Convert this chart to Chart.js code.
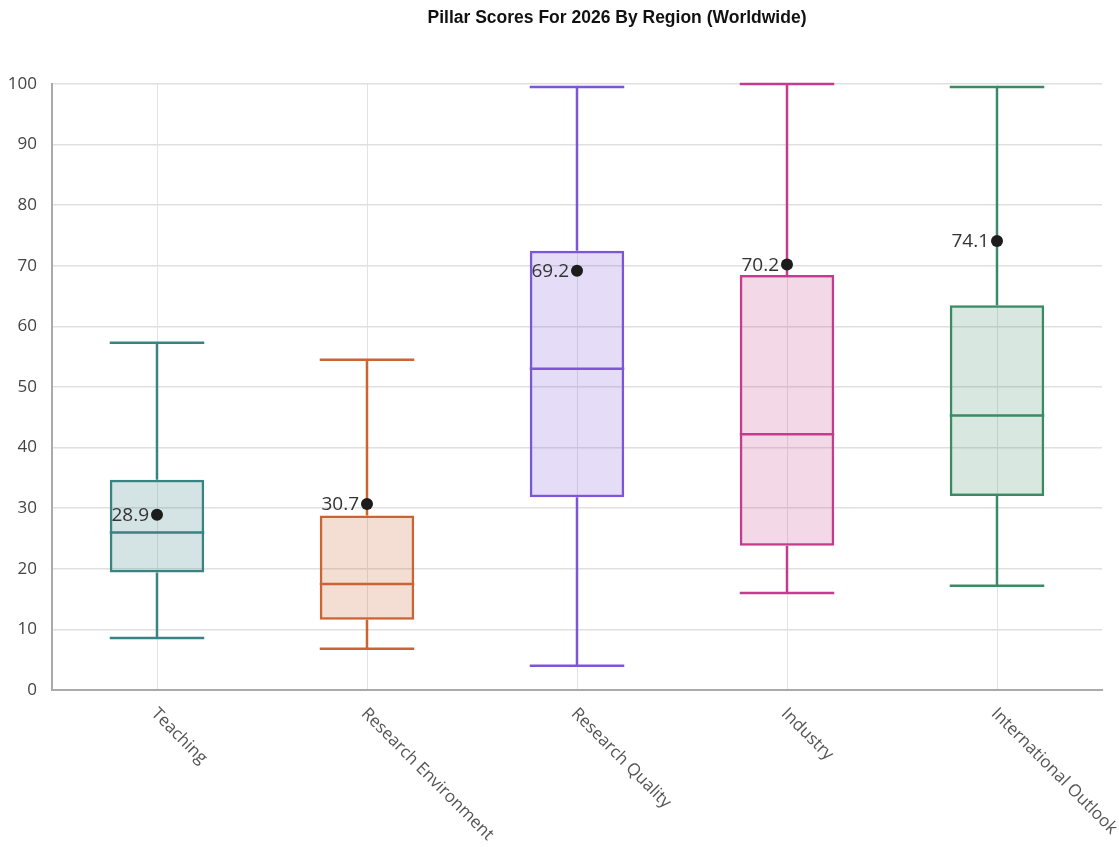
<!DOCTYPE html>
<html><head><meta charset="utf-8">
<script src="https://cdn.jsdelivr.net/npm/chart.js@4.4.1/dist/chart.umd.min.js"></script>
<style>html,body{margin:0;padding:0;background:#fff;overflow:hidden}#wrap{width:1119px;height:847px;position:relative}</style>
</head><body><div id="wrap"><canvas id="c"></canvas></div>
<script>
const titleText = 'Pillar Scores For 2026 By Region (Worldwide)';
const categories = ['Teaching', 'Research Environment', 'Research Quality', 'Industry', 'International Outlook'];
const minValues = [8.6, 6.8, 4.0, 16.0, 17.2];
const q1Values = [19.4, 11.6, 31.8, 23.8, 32.0];
const medianValues = [26.0, 17.5, 53.0, 42.2, 45.3];
const q3Values = [34.7, 28.8, 72.5, 68.5, 63.5];
const maxValues = [57.3, 54.5, 99.5, 100.0, 99.5];
const meanValues = [28.9, 30.7, 69.2, 70.2, 74.1];
const strokeColors = ['#3a8383', '#cc6333', '#7d55d8', '#c43c8b', '#3a8b64'];
const fillColors = ['rgba(58,131,131,0.22)', 'rgba(204,99,51,0.22)', 'rgba(125,85,216,0.2)', 'rgba(196,60,139,0.2)', 'rgba(58,139,100,0.2)'];

const boxPlugin = {
  id: 'boxParts',
  afterDatasetDraw(chart, args) {
    if (args.index !== 0) return;
    const y = chart.scales.y, ctx = chart.ctx;
    ctx.save();
    ctx.lineWidth = 2.5;
    args.meta.data.forEach((bar, i) => {
      const cx = bar.x, half = bar.width / 2;
      const yMin = y.getPixelForValue(minValues[i]);
      const yQ1 = y.getPixelForValue(q1Values[i]);
      const yMed = y.getPixelForValue(medianValues[i]);
      const yQ3 = y.getPixelForValue(q3Values[i]);
      const yMax = y.getPixelForValue(maxValues[i]);
      ctx.strokeStyle = strokeColors[i];
      ctx.beginPath();
      ctx.moveTo(cx, yQ3); ctx.lineTo(cx, yMax);
      ctx.moveTo(cx, yQ1); ctx.lineTo(cx, yMin);
      ctx.moveTo(cx - half, yMax); ctx.lineTo(cx + half, yMax);
      ctx.moveTo(cx - half, yMin); ctx.lineTo(cx + half, yMin);
      ctx.moveTo(cx - half, yMed); ctx.lineTo(cx + half, yMed);
      ctx.stroke();
    });
    ctx.restore();
  },
  afterDraw(chart) {
    const ctx = chart.ctx, xs = chart.scales.x, ys = chart.scales.y;
    ctx.save();
    // mean labels
    ctx.font = '19px "Open Sans"';
    ctx.fillStyle = '#333';
    ctx.textAlign = 'right';
    ctx.textBaseline = 'middle';
    meanValues.forEach((v, i) => {
      ctx.fillText(v.toFixed(1), xs.getPixelForValue(i) - 8, ys.getPixelForValue(v) + 1);
    });
    // x labels
    ctx.font = '17px "Open Sans"';
    ctx.fillStyle = '#555';
    ctx.textAlign = 'left';
    ctx.textBaseline = 'top';
    categories.forEach((c, i) => {
      ctx.save();
      ctx.translate(xs.getPixelForValue(i) + 3, chart.chartArea.bottom + 15);
      ctx.rotate(Math.PI / 4);
      ctx.fillText(c, 0, 0);
      ctx.restore();
    });
    // title
    ctx.font = 'bold 17.5px "Liberation Sans"';
    ctx.fillStyle = '#111';
    ctx.textAlign = 'center';
    ctx.textBaseline = 'middle';
    ctx.fillText(titleText, 617, 18);
    ctx.restore();
  }
};

new Chart(document.getElementById('c'), {
  data: {
    labels: categories,
    datasets: [
      {
        type: 'bar',
        label: 'IQR',
        data: categories.map((_, i) => [q1Values[i], q3Values[i]]),
        backgroundColor: fillColors,
        borderColor: strokeColors,
        borderWidth: 2.5,
        borderSkipped: false,
        barPercentage: 0.45,
        categoryPercentage: 1,
        order: 1
      },
      {
        type: 'line',
        label: 'Mean',
        data: meanValues,
        showLine: false,
        pointRadius: 6,
        pointHoverRadius: 6,
        pointBackgroundColor: '#1c1c1c',
        pointBorderWidth: 0,
        order: 0
      }
    ]
  },
  options: {
    animation: false,
    responsive: true,
    maintainAspectRatio: false,
    layout: { padding: { top: 84, right: 17, left: 0, bottom: 0 } },
    plugins: { legend: { display: false }, tooltip: { enabled: false }, title: { display: false } },
    scales: {
      x: {
        type: 'category',
        offset: true,
        grid: { offset: false, color: '#e3e3e3', lineWidth: 1, drawTicks: false },
        border: { color: '#aaaaaa', width: 2 },
        ticks: { display: false },
        afterFit(s) { s.height = 157; }
      },
      y: {
        min: 0, max: 100,
        ticks: { stepSize: 10, padding: 15, color: '#444', font: { family: 'Open Sans', size: 17 } },
        grid: { color: '#e0e0e0', lineWidth: 1.5, drawTicks: false },
        border: { color: '#aaaaaa', width: 2 },
        afterFit(s) { s.width = 52; }
      }
    }
  },
  plugins: [boxPlugin]
});
</script></body></html>
